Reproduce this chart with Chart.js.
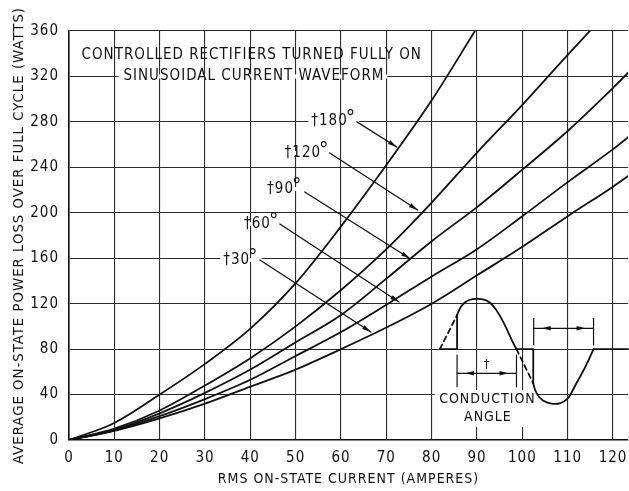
<!DOCTYPE html>
<html>
<head>
<meta charset="utf-8">
<title>Average on-state power loss vs RMS current</title>
<script src="https://cdn.jsdelivr.net/npm/chart.js@4.4.1/dist/chart.umd.min.js"></script>
<style>
  html, body { margin: 0; padding: 0; background: #fff; }
  canvas { display: block; }
</style>
</head>
<body>
<canvas id="lossChart" width="629" height="491"></canvas>
<script>
// RMS on-state current (A) where the curves were read
const currentA = [0, 10, 20, 30, 40, 50, 60, 70, 80, 90, 100, 110, 120, 125];

// average on-state power loss (W), one list per conduction angle
const loss180 = [0, 15, 40, 67, 98, 138, 188, 242, 299, 363, null, null, null, null];
const loss120 = [0, 10, 26, 48, 72, 100, 132, 168, 209, 253, 295, 339, 382, null];
const loss90  = [0, 9, 23.5, 41.5, 62, 86, 110, 142, 175, 205, 238, 272, 310, 330];
const loss60  = [0, 8.5, 21, 36, 53, 74, 95, 119, 144, 168, 197, 227, 256, 272];
const loss30  = [0, 8, 19, 32, 47, 62, 80, 99, 120, 145, 170, 197, 223, 237];

const angleLabels = ['\u2020180\u00b0', '\u2020120\u00b0', '\u202090\u00b0', '\u202060\u00b0', '\u202030\u00b0'];
const xTicks = [0, 10, 20, 30, 40, 50, 60, 70, 80, 90, 100, 110, 120];
const yTicks = [0, 40, 80, 120, 160, 200, 240, 280, 320, 360];

const FONT = "'DejaVu Sans Condensed', 'Liberation Sans Narrow', 'Roboto Condensed', 'DejaVu Sans', sans-serif";
const INK = '#111';

var toPoints = function(values) {
	return currentA.map(function(c, i) { return { x: c, y: values[i] }; });
};

// draw a polyline through data-space points, rounded with midpoints
var path = function(ctx, pts, px, py, smooth) {
	ctx.beginPath();
	ctx.moveTo(px(pts[0][0]), py(pts[0][1]));
	if (!smooth || pts.length < 3) {
		for (let i = 1; i < pts.length; i++) ctx.lineTo(px(pts[i][0]), py(pts[i][1]));
	} else {
		for (let i = 1; i < pts.length - 1; i++) {
			const mx = (px(pts[i][0]) + px(pts[i + 1][0])) / 2;
			const my = (py(pts[i][1]) + py(pts[i + 1][1])) / 2;
			ctx.quadraticCurveTo(px(pts[i][0]), py(pts[i][1]), mx, my);
		}
		const last = pts[pts.length - 1];
		ctx.lineTo(px(last[0]), py(last[1]));
	}
	ctx.stroke();
};

var arrowHead = function(ctx, x0, y0, x1, y1, len, half) {
	const a = Math.atan2(y1 - y0, x1 - x0);
	ctx.beginPath();
	ctx.moveTo(x1, y1);
	ctx.lineTo(x1 - len * Math.cos(a) + half * Math.sin(a), y1 - len * Math.sin(a) - half * Math.cos(a));
	ctx.lineTo(x1 - len * Math.cos(a) - half * Math.sin(a), y1 - len * Math.sin(a) + half * Math.cos(a));
	ctx.closePath();
	ctx.fill();
};

var text = function(ctx, str, x, y, size, align) {
	ctx.font = size + 'px ' + FONT;
	ctx.textAlign = align || 'center';
	ctx.textBaseline = 'middle';
	ctx.fillText(str, x, y);
};

// angle label: main digits plus a raised degree mark, centred on x
var angleText = function(ctx, str, x, y) {
	const main = str.slice(0, -1);
	ctx.font = '15px ' + FONT;
	const w = ctx.measureText(main).width;
	ctx.font = '21px ' + FONT;
	const dw = ctx.measureText('\u00b0').width;
	const x0 = x - (w + dw - 2) / 2;
	ctx.fillStyle = '#fff';
	ctx.fillRect(x0 - 3, y - 2, w + dw + 4, 4);
	ctx.fillStyle = INK;
	text(ctx, main, x0, y, 15, 'left');
	text(ctx, '\u00b0', x0 + w - 2, y - 1, 21, 'left');
};

const notes = {
	id: 'notes',
	beforeDraw(chart) {
		chart.ctx.letterSpacing = '1px';
	},
	afterDatasetsDraw(chart) {
		const ctx = chart.ctx;
		const px = v => chart.scales.x.getPixelForValue(v);
		const py = v => chart.scales.y.getPixelForValue(v);
		ctx.save();
		ctx.letterSpacing = '1px';
		ctx.strokeStyle = INK;
		ctx.fillStyle = INK;
		ctx.lineCap = 'round';
		ctx.lineJoin = 'round';

		// heading inside the plot
		ctx.font = '15px ' + FONT;
		const h2 = 'SINUSOIDAL CURRENT WAVEFORM';
		const w2 = ctx.measureText(h2).width;
		ctx.fillStyle = '#fff';
		ctx.fillRect(px(40.6) - w2 / 2 - 4, py(320) - 2, w2 + 8, 4);
		ctx.fillStyle = INK;
		text(ctx, 'CONTROLLED RECTIFIERS TURNED FULLY ON', px(40.3), py(339), 15);
		text(ctx, h2, px(40.8), py(320.4), 15);

		// conduction angle labels with leader arrows
		const spots = [
			{ at: [58.4, 281], from: [63.5, 280], to: [72.3, 257.9] },
			{ at: [52.5, 252.6], from: [57.5, 252.6], to: [76.9, 202.4] },
			{ at: [47.6, 220.9], from: [52.0, 218.3], to: [75.2, 159.8] },
			{ at: [42.5, 190.1], from: [46.5, 190.1], to: [72.8, 121.5] },
			{ at: [37.9, 158.4], from: [42.1, 158.4], to: [66.6, 95.1] }
		];
		ctx.lineWidth = 1.3;
		spots.forEach(function(s, i) {
			angleText(ctx, angleLabels[i], px(s.at[0]), py(s.at[1]));
			const x0 = px(s.from[0]), y0 = py(s.from[1]);
			const x1 = px(s.to[0]), y1 = py(s.to[1]);
			ctx.beginPath();
			ctx.moveTo(x0, y0);
			ctx.lineTo(x1, y1);
			ctx.stroke();
			arrowHead(ctx, x0, y0, x1, y1, 9, 2.2);
		});

		// waveform sketch, bottom right
		ctx.fillStyle = '#fff';
		ctx.fillRect(px(80.7), py(44), px(103.2) - px(80.7), py(11.4) - py(44));
		ctx.fillStyle = INK;
		ctx.lineWidth = 1.8;
		path(ctx, [[81.8, 80], [85.6, 80], [85.6, 110]], px, py);
		path(ctx, [[85.6, 110], [86.2, 116], [86.9, 119.7], [88, 123.2], [90, 124.7], [92.1, 123.2],
			[93.5, 118.8], [95, 110], [96.5, 98.3], [98, 85], [98.7, 80]], px, py, true);
		path(ctx, [[98.7, 80], [102.4, 80], [102.4, 49.9]], px, py);
		path(ctx, [[102.4, 49.9], [102.7, 44], [103.8, 36.7], [105.3, 32.8], [107.5, 31.4], [109.3, 33.7],
			[110.4, 38.1], [111.9, 49.9], [113.8, 63.1], [115.7, 80]], px, py, true);
		path(ctx, [[115.7, 80], [123.3, 80]], px, py);
		ctx.setLineDash([5, 4]);
		path(ctx, [[81.8, 80], [85.6, 110]], px, py);
		path(ctx, [[98.7, 80], [102.4, 49.9]], px, py);
		ctx.setLineDash([]);

		// dimension marks
		ctx.lineWidth = 1.2;
		const dims = [
			{ a: 85.6, b: 98.7, y: 58.7, top: 74.8, bot: 46.9 },
			{ a: 102.5, b: 115.7, y: 98.3, top: 107.1, bot: 83.6 }
		];
		dims.forEach(function(d) {
			path(ctx, [[d.a, d.top], [d.a, d.bot]], px, py);
			path(ctx, [[d.b, d.top], [d.b, d.bot]], px, py);
			path(ctx, [[d.a, d.y], [d.b, d.y]], px, py);
			const ya = py(d.y);
			arrowHead(ctx, px(d.a) + 20, ya, px(d.a) + 8, ya, 9, 2.2);
			arrowHead(ctx, px(d.b) - 20, ya, px(d.b) - 8, ya, 9, 2.2);
		});
		text(ctx, '\u2020', px(92.2), py(66), 13);
		text(ctx, 'CONDUCTION', px(92.3), py(35.8), 14);
		text(ctx, 'ANGLE', px(92.4), py(20), 14);
		ctx.restore();
	}
};

const curve = function(values) {
	return {
		data: toPoints(values),
		borderColor: INK,
		borderWidth: 1.8,
		pointRadius: 0,
		fill: false,
		cubicInterpolationMode: 'monotone'
	};
};

const gridStyle = { color: '#2b2b2b', lineWidth: 1.1, drawTicks: false };

new Chart(document.getElementById('lossChart'), {
	type: 'line',
	data: {
		datasets: [curve(loss180), curve(loss120), curve(loss90), curve(loss60), curve(loss30)]
	},
	options: {
		responsive: false,
		animation: false,
		layout: { padding: { top: 31, right: 1, left: 0, bottom: 0 } },
		plugins: { legend: { display: false }, tooltip: { enabled: false } },
		scales: {
			x: {
				type: 'linear',
				min: 0,
				max: 123.3,
				afterBuildTicks: function(s) { s.ticks = xTicks.map(v => ({ value: v })); },
				afterFit: function(s) { s.height = 51; s.paddingLeft = 0; s.paddingRight = 0; },
				grid: gridStyle,
				border: { color: INK, width: 1.6 },
				ticks: { color: INK, padding: 9, maxRotation: 0, font: { family: FONT, size: 15 } },
				title: {
					display: true,
					text: 'RMS ON-STATE CURRENT (AMPERES)',
					color: INK,
					padding: { top: 0, bottom: 3 },
					font: { family: FONT, size: 14 }
				}
			},
			y: {
				min: 0,
				max: 360,
				afterBuildTicks: function(s) { s.ticks = yTicks.map(v => ({ value: v })); },
				afterFit: function(s) { s.width = 69; s.paddingTop = 0; s.paddingBottom = 0; },
				grid: gridStyle,
				border: { color: INK, width: 1.6 },
				ticks: { color: INK, padding: 10, font: { family: FONT, size: 15 } },
				title: {
					display: true,
					text: 'AVERAGE ON-STATE POWER LOSS OVER FULL CYCLE (WATTS)',
					color: INK,
					padding: { top: 10, bottom: 0 },
					font: { family: FONT, size: 14.8 }
				}
			}
		}
	},
	plugins: [notes]
});
</script>
</body>
</html>
